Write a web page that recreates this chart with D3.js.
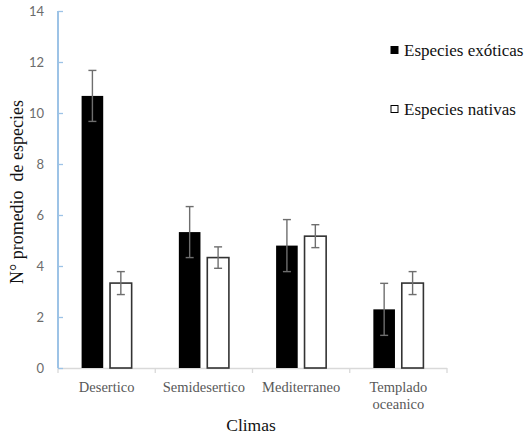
<!DOCTYPE html>
<html>
<head>
<meta charset="utf-8">
<script src="https://cdn.jsdelivr.net/npm/d3@7"></script>
<style>
  body { margin: 0; background: #fff; }
  svg { display: block; }
  .serif { font-family: "Liberation Serif", "DejaVu Serif", "Times New Roman", Times, serif; }
  .sans { font-family: Lato, "Open Sans", sans-serif; }
</style>
</head>
<body>
<svg id="chart" width="532" height="437"></svg>
<script>
const climas = ["Desertico", "Semidesertico", "Mediterraneo", "Templado oceanico"];
const series = ["Especies exóticas", "Especies nativas"];
const exoticas = [10.67, 5.33, 4.8, 2.3];
const exoticasErr = [1.0, 1.0, 1.02, 1.02];
const nativas = [3.33, 4.33, 5.17, 3.33];
const nativasErr = [0.45, 0.42, 0.45, 0.45];
const yTicks = [0, 2, 4, 6, 8, 10, 12, 14];

const rows = climas.map((c, i) => ({
    clima: c,
    values: [
        {serie: series[0], value: exoticas[i], err: exoticasErr[i]},
        {serie: series[1], value: nativas[i], err: nativasErr[i]}
    ]
}));

const svg = d3.select("#chart");

const x0 = d3.scaleBand().domain(climas).range([58, 447]).paddingInner(0).paddingOuter(0);
const x1 = d3.scaleBand().domain(series).range([0, x0.bandwidth()]).paddingInner(0.24).paddingOuter(0.83);
const y = d3.scaleLinear().domain([0, 14]).range([368, 11]);
const fill = d3.scaleOrdinal().domain(series).range(["#000000", "#ffffff"]);

// x axis line and ticks at category boundaries
svg.append("line")
    .attr("x1", x0.range()[0]).attr("x2", x0.range()[1])
    .attr("y1", y(0) + 0.5).attr("y2", y(0) + 0.5)
    .attr("stroke", "#d9d9d9").attr("stroke-width", 1.3);
const bounds = climas.map(c => x0(c)).concat([x0.range()[1]]);
svg.selectAll(".xtick").data(bounds).enter().append("line")
    .attr("x1", d => d).attr("x2", d => d)
    .attr("y1", y(0)).attr("y2", y(0) + 5)
    .attr("stroke", "#d9d9d9").attr("stroke-width", 1.3);

// y axis (light blue)
const yAxis = d3.axisRight(y).tickValues(yTicks).tickSize(5).tickFormat("");
const gy = svg.append("g").attr("transform", "translate(58,0)").call(yAxis);
gy.select(".domain").remove();
gy.selectAll("line").attr("stroke", "#9dc3e6").attr("stroke-width", 1.3);
svg.append("line")
    .attr("x1", 58).attr("x2", 58).attr("y1", y(14)).attr("y2", y(0))
    .attr("stroke", "#9dc3e6").attr("stroke-width", 2);
svg.selectAll(".ylab").data(yTicks).enter().append("text")
    .attr("class", "sans")
    .attr("x", 44).attr("y", d => y(d)).attr("dy", "0.35em")
    .attr("text-anchor", "end")
    .attr("font-size", 13).attr("fill", "#6b6b6b")
    .text(d => d);

// bars
const groups = svg.selectAll(".grp").data(rows).enter().append("g")
    .attr("transform", d => `translate(${x0(d.clima)},0)`);
groups.selectAll("rect").data(d => d.values).enter().append("rect")
    .attr("x", d => x1(d.serie))
    .attr("y", d => y(d.value))
    .attr("width", x1.bandwidth())
    .attr("height", d => y(0) - y(d.value))
    .attr("fill", d => fill(d.serie))
    .attr("stroke", d => d.serie === series[0] ? "none" : "#333")
    .attr("stroke-width", 1.6);

// error bars
const eb = groups.selectAll(".err").data(d => d.values).enter().append("g")
    .attr("stroke", "#6e6e6e").attr("stroke-width", 1.4);
const cx = d => x1(d.serie) + x1.bandwidth() / 2;
eb.append("line")
    .attr("x1", cx).attr("x2", cx)
    .attr("y1", d => y(d.value + d.err)).attr("y2", d => y(d.value - d.err));
eb.append("line")
    .attr("x1", d => cx(d) - 4).attr("x2", d => cx(d) + 4)
    .attr("y1", d => y(d.value + d.err)).attr("y2", d => y(d.value + d.err));
eb.append("line")
    .attr("x1", d => cx(d) - 4).attr("x2", d => cx(d) + 4)
    .attr("y1", d => y(d.value - d.err)).attr("y2", d => y(d.value - d.err));

// category labels
svg.selectAll(".xlab").data(climas).enter().append("text")
    .attr("class", "serif")
    .attr("x", d => x0(d) + x0.bandwidth() / 2)
    .attr("y", 392)
    .attr("text-anchor", "middle")
    .attr("font-size", 14.5).attr("fill", "#595959")
    .each(function(d) {
        const words = d.split(" ");
        const t = d3.select(this);
        words.forEach((w, i) => {
            t.append("tspan").attr("x", x0(d) + x0.bandwidth() / 2)
                .attr("dy", i === 0 ? 0 : 17).text(w);
        });
    });

// axis titles
svg.append("text")
    .attr("class", "serif")
    .attr("x", 251).attr("y", 431)
    .attr("text-anchor", "middle")
    .attr("font-size", 17.5).attr("fill", "#111")
    .text("Climas");
svg.append("text")
    .attr("class", "serif")
    .attr("transform", "translate(23,192) rotate(-90)")
    .attr("text-anchor", "middle")
    .attr("font-size", 18).attr("fill", "#111")
    .attr("xml:space", "preserve")
    .style("white-space", "pre")
    .text("N° promedio  de especies");

// legend
const legendY = [50, 109];
const lg = svg.selectAll(".leg").data(series).enter().append("g")
    .attr("transform", (d, i) => `translate(391,${legendY[i]})`);
lg.append("rect")
    .attr("x", 0).attr("y", -3.5).attr("width", 7).attr("height", 7)
    .attr("fill", d => fill(d)).attr("stroke", "#000").attr("stroke-width", 1);
lg.append("text")
    .attr("class", "serif")
    .attr("x", 13).attr("y", 5.5)
    .attr("font-size", 17).attr("fill", "#111")
    .text(d => d);
</script>
</body>
</html>
